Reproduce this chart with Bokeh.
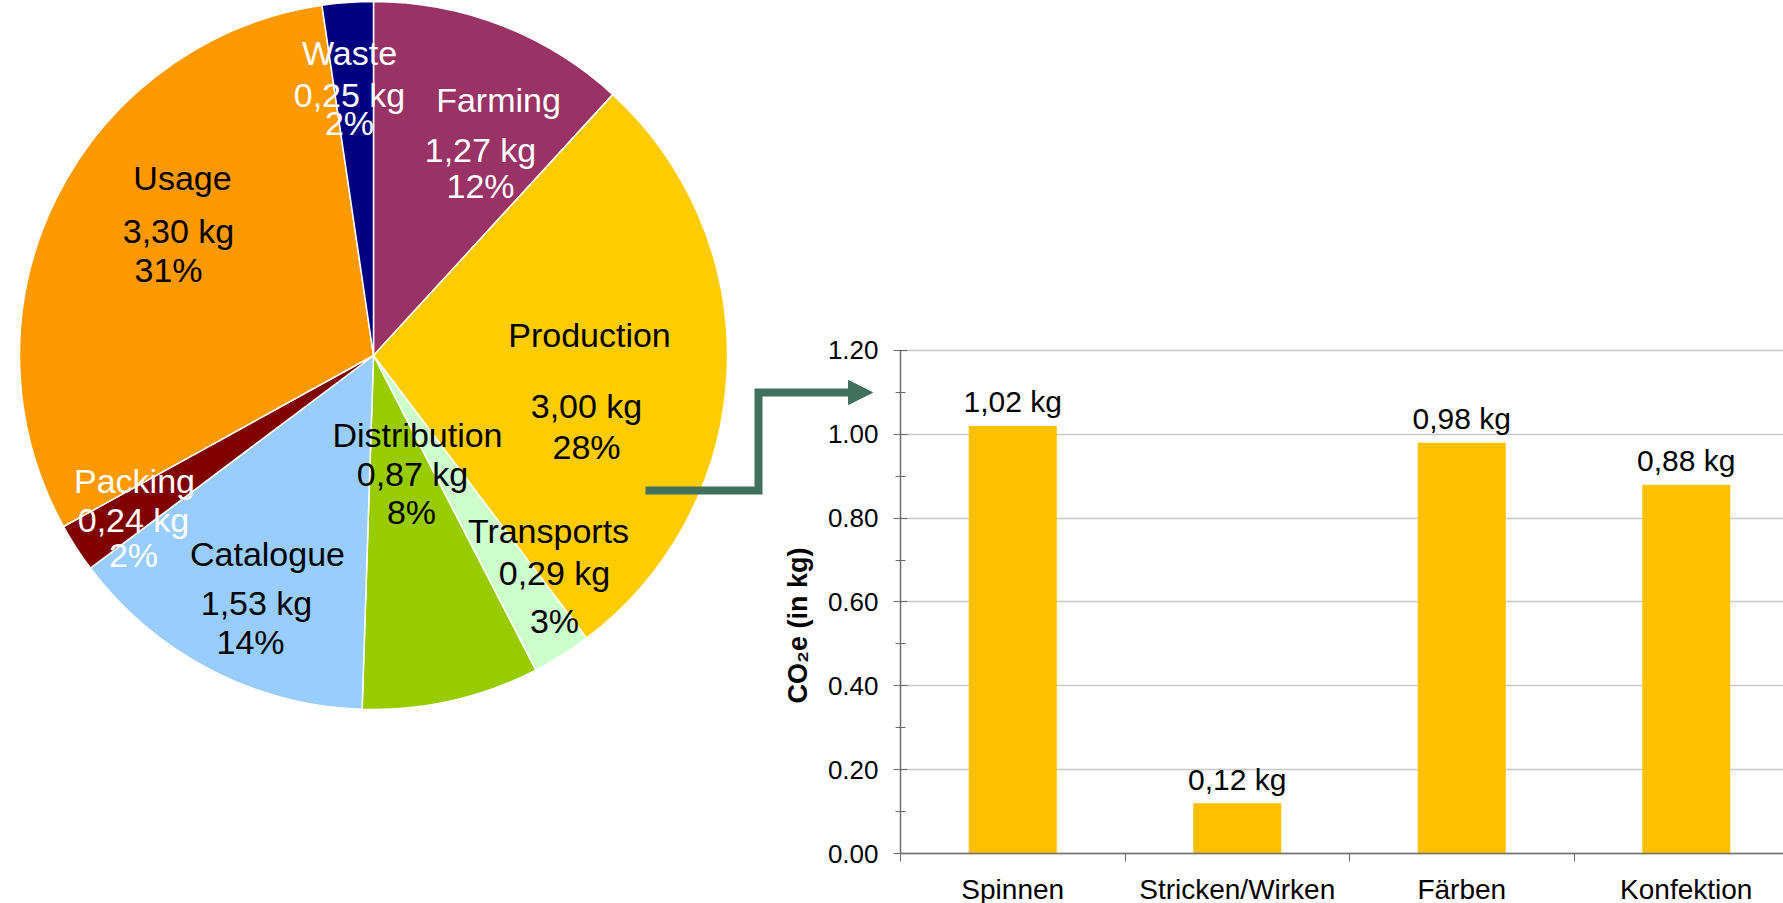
import math
from bokeh.plotting import figure
from bokeh.models import (Range1d, LinearAxis, Grid, FixedTicker,
                          PrintfTickFormatter, ColumnDataSource)
from bokeh.core.properties import value
from bokeh.embed import file_html
from bokeh.resources import INLINE

# ---------------- data ----------------
# pie: emissions per life-cycle stage (kg CO2e), clockwise from 12 o'clock
slices = ["Farming", "Production", "Transports", "Distribution",
          "Catalogue", "Packing", "Usage", "Waste"]
slice_kg = [1.27, 3.00, 0.29, 0.87, 1.53, 0.24, 3.30, 0.25]

# bars: breakdown of the production stage
steps = ["Spinnen", "Stricken/Wirken", "Färben", "Konfektion"]
step_kg = [1.02, 0.12, 0.98, 0.88]
y_ticks = [0.0, 0.2, 0.4, 0.6, 0.8, 1.0, 1.2]
y_label = "CO₂e (in kg)"

# ---------------- styles / layout ----------------
slice_colors = ["#993366", "#FFCC00", "#CCFFCC", "#99CC00",
                "#99CCFF", "#800000", "#FF9900", "#000080"]
label_colors = ["white", "black", "black", "black",
                "black", "white", "black", "white"]
# label line offsets from pie centre (pixels, y up)
name_off = [(125, 256), (216, 21), (175, -175), (44, -79),
            (-106, -198), (-239, -125), (-191, 178), (-24, 303)]
val_off = [(107, 206), (213, -50), (181, -217), (39, -118),
           (-117, -247), (-240, -164), (-195, 125), (-24, 261)]
pct_off = [(107, 170), (213, -91), (181, -265), (38, -156),
           (-123, -286), (-240, -199), (-205, 86), (-24, 233)]

FONT = "Liberation Sans"
BAR_COLOR = "#FFC000"
ARROW = "#41705F"
AXIS_COLOR = "#6E6E6E"
GRID_COLOR = "#C8C8C8"

W, H = 1783, 903            # canvas; page x = data x, page y = H - data y
CX, CY, R = 373, H - 355, 354
AX, CAT = 900, 224.5        # bar chart: x of value axis, px per category
AY, UNIT = 853, 419.17      # bar chart: y of zero line, px per kg

p = figure(width=W, height=H, x_range=Range1d(0, W), y_range=Range1d(0, H),
           x_axis_type=None, y_axis_type=None, toolbar_location=None,
           output_backend="svg", min_border=0, outline_line_color=None)
p.background_fill_color = "white"
p.border_fill_color = "white"

p.extra_x_ranges = {"bx": Range1d((0 - AX) / CAT, (W - AX) / CAT)}
p.extra_y_ranges = {"by": Range1d((AY - H) / UNIT, AY / UNIT)}

# ---------------- pie ----------------
total = sum(slice_kg)
cum = [0.0]
for v in slice_kg:
    cum.append(cum[-1] + v / total)
starts = [math.pi / 2 - 2 * math.pi * c for c in cum[:-1]]
ends = [math.pi / 2 - 2 * math.pi * c for c in cum[1:]]
pie_src = ColumnDataSource(dict(start=starts, end=ends, color=slice_colors))
p.wedge(x=CX, y=CY, radius=R, start_angle="start", end_angle="end",
        direction="clock", fill_color="color", line_color="white",
        line_width=1.5, source=pie_src)

def fmt_kg(v):
    return f"{v:.2f}".replace(".", ",") + " kg"

names_src = ColumnDataSource(dict(
    x=[CX + o[0] for o in name_off], y=[CY + o[1] for o in name_off],
    t=slices, c=label_colors))
vals_src = ColumnDataSource(dict(
    x=[CX + o[0] for o in val_off], y=[CY + o[1] for o in val_off],
    t=[fmt_kg(v) for v in slice_kg], c=label_colors))
pcts_src = ColumnDataSource(dict(
    x=[CX + o[0] for o in pct_off], y=[CY + o[1] for o in pct_off],
    t=[f"{round(v / total * 100)}%" for v in slice_kg], c=label_colors))
for src in (names_src, vals_src, pcts_src):
    p.text(x="x", y="y", text="t", text_color="c", source=src,
           text_align="center", text_baseline="middle",
           text_font=value(FONT), text_font_size="34px")

# ---------------- arrow ----------------
arrow_x = [645, 758, 758, 850]
arrow_y = [H - 490, H - 490, H - 392, H - 392]
p.line(arrow_x, arrow_y, line_color=ARROW, line_width=8, line_join="miter")
p.patch([848, 872, 848], [H - 380, H - 392, H - 404],
        fill_color=ARROW, line_color=ARROW)

# ---------------- bar chart ----------------
centers = [i + 0.5 for i in range(len(steps))]
bar_src = ColumnDataSource(dict(x=centers, top=step_kg,
                                lab=[fmt_kg(v) for v in step_kg]))

ygrid_ticker = FixedTicker(ticks=y_ticks,
                           minor_ticks=[t + 0.1 for t in y_ticks[:-1]])
grid = Grid(dimension=1, ticker=ygrid_ticker, x_range_name="bx",
            y_range_name="by", bounds=(0, max(y_ticks)),
            grid_line_color=GRID_COLOR, grid_line_width=1.5)
try:
    grid.cross_bounds = (0, len(steps))
except Exception:
    pass
p.add_layout(grid)

p.vbar(x="x", top="top", width=0.392, source=bar_src, x_range_name="bx",
       y_range_name="by", fill_color=BAR_COLOR, line_color=None)
p.text(x="x", y="top", text="lab", source=bar_src, x_range_name="bx",
       y_range_name="by", text_align="center", text_baseline="alphabetic",
       y_offset=-24, text_font=value(FONT), text_font_size="30px",
       text_color="black")

yaxis = LinearAxis(x_range_name="bx", y_range_name="by", fixed_location=0,
                   bounds=(0, max(y_ticks)), ticker=ygrid_ticker,
                   formatter=PrintfTickFormatter(format="%.2f"))
yaxis.axis_line_color = AXIS_COLOR
yaxis.axis_line_width = 1.5
yaxis.major_tick_line_color = AXIS_COLOR
yaxis.minor_tick_line_color = AXIS_COLOR
yaxis.major_tick_in = 7
yaxis.major_tick_out = 7
yaxis.minor_tick_in = 5
yaxis.minor_tick_out = 5
yaxis.major_label_standoff = 15
yaxis.major_label_text_font = FONT
yaxis.major_label_text_font_size = "26px"
yaxis.major_label_text_color = "black"
p.add_layout(yaxis, "left")

# rotated value-axis title, placed beside the tick labels
p.text(x=[797], y=[H - 625], text=[y_label], angle=math.pi / 2,
       text_align="center", text_baseline="middle", text_font=value(FONT),
       text_font_size="27px", text_font_style="bold", text_color="black")

xaxis = LinearAxis(x_range_name="bx", y_range_name="by", fixed_location=0,
                   bounds=(0, len(steps)),
                   ticker=FixedTicker(ticks=centers,
                                      minor_ticks=list(range(len(steps) + 1))),
                   major_label_overrides={c: s for c, s in zip(centers, steps)})
xaxis.axis_line_color = AXIS_COLOR
xaxis.axis_line_width = 1.5
xaxis.major_tick_in = 0
xaxis.major_tick_out = 0
xaxis.minor_tick_in = 0
xaxis.minor_tick_out = 8
xaxis.minor_tick_line_color = AXIS_COLOR
xaxis.major_label_standoff = 12
xaxis.major_label_text_font = FONT
xaxis.major_label_text_font_size = "28px"
xaxis.major_label_text_color = "black"
p.add_layout(xaxis, "below")

open("out.html", "w").write(file_html(p, INLINE, title="CO2e"))
